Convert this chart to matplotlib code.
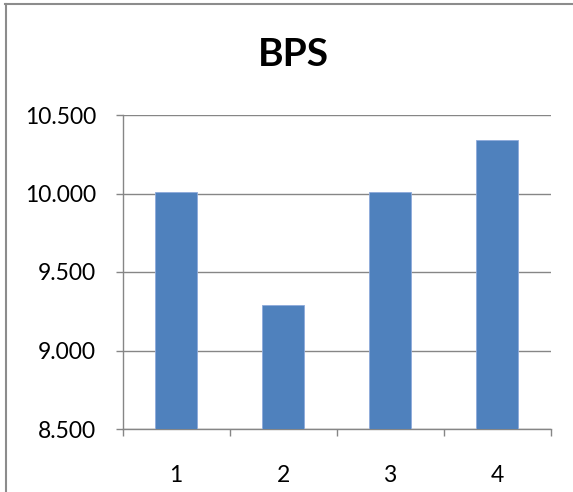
import matplotlib
matplotlib.use("Agg")
import matplotlib.pyplot as plt
from matplotlib.lines import Line2D

categories = ["1", "2", "3", "4"]
values = [10011, 9291, 10011, 10343]
yticks = [8500, 9000, 9500, 10000, 10500]
ytick_labels = ["8.500", "9.000", "9.500", "10.000", "10.500"]
title = "BPS"

plt.rcParams['font.family'] = ['Lato', 'DejaVu Sans']

fig = plt.figure(figsize=(5.73, 4.92), dpi=100)
ax = fig.add_axes([122.5/573, 63/492, 428/573, 314/492])

x = list(range(len(categories)))
ax.bar(x, [v - 8500 for v in values], bottom=8500, width=0.4,
       color="#4F81BD", edgecolor="#8EAADB", linewidth=0.6, zorder=3)

ax.set_xlim(-0.5, len(categories) - 0.5)
ax.set_ylim(8500, 10500)
ax.set_yticks(yticks)
ax.set_yticklabels(ytick_labels, fontsize=16.5)
ax.set_xticks(x)
ax.set_xticklabels(categories, fontsize=16.5)
ax.set_xticks([i - 0.5 for i in range(len(categories) + 1)], minor=True)

ax.yaxis.grid(True, color="#868686", linewidth=1.0, zorder=0)
ax.set_axisbelow(True)
for s in ["top", "right"]:
    ax.spines[s].set_visible(False)
for s in ["left", "bottom"]:
    ax.spines[s].set_color("#868686")
    ax.spines[s].set_linewidth(1.0)

ax.tick_params(axis='y', length=5, width=1.0, color="#868686", pad=14)
ax.tick_params(axis='x', which='major', length=0, pad=26)
ax.tick_params(axis='x', which='minor', length=5, width=1.0, color="#868686")

fig.text(293/573, 1 - 55/492, title, ha='center', va='center',
         fontsize=28, fontweight='bold')

# chart border (cropped)
fig.add_artist(Line2D([5/573, 1.0], [1 - 3.5/492, 1 - 3.5/492],
                      transform=fig.transFigure, color="#8C8C8C", linewidth=1.5))
fig.add_artist(Line2D([5.5/573, 5.5/573], [0.0, 1 - 3.5/492],
                      transform=fig.transFigure, color="#8C8C8C", linewidth=1.5))

fig.savefig("out.png", dpi=100)
